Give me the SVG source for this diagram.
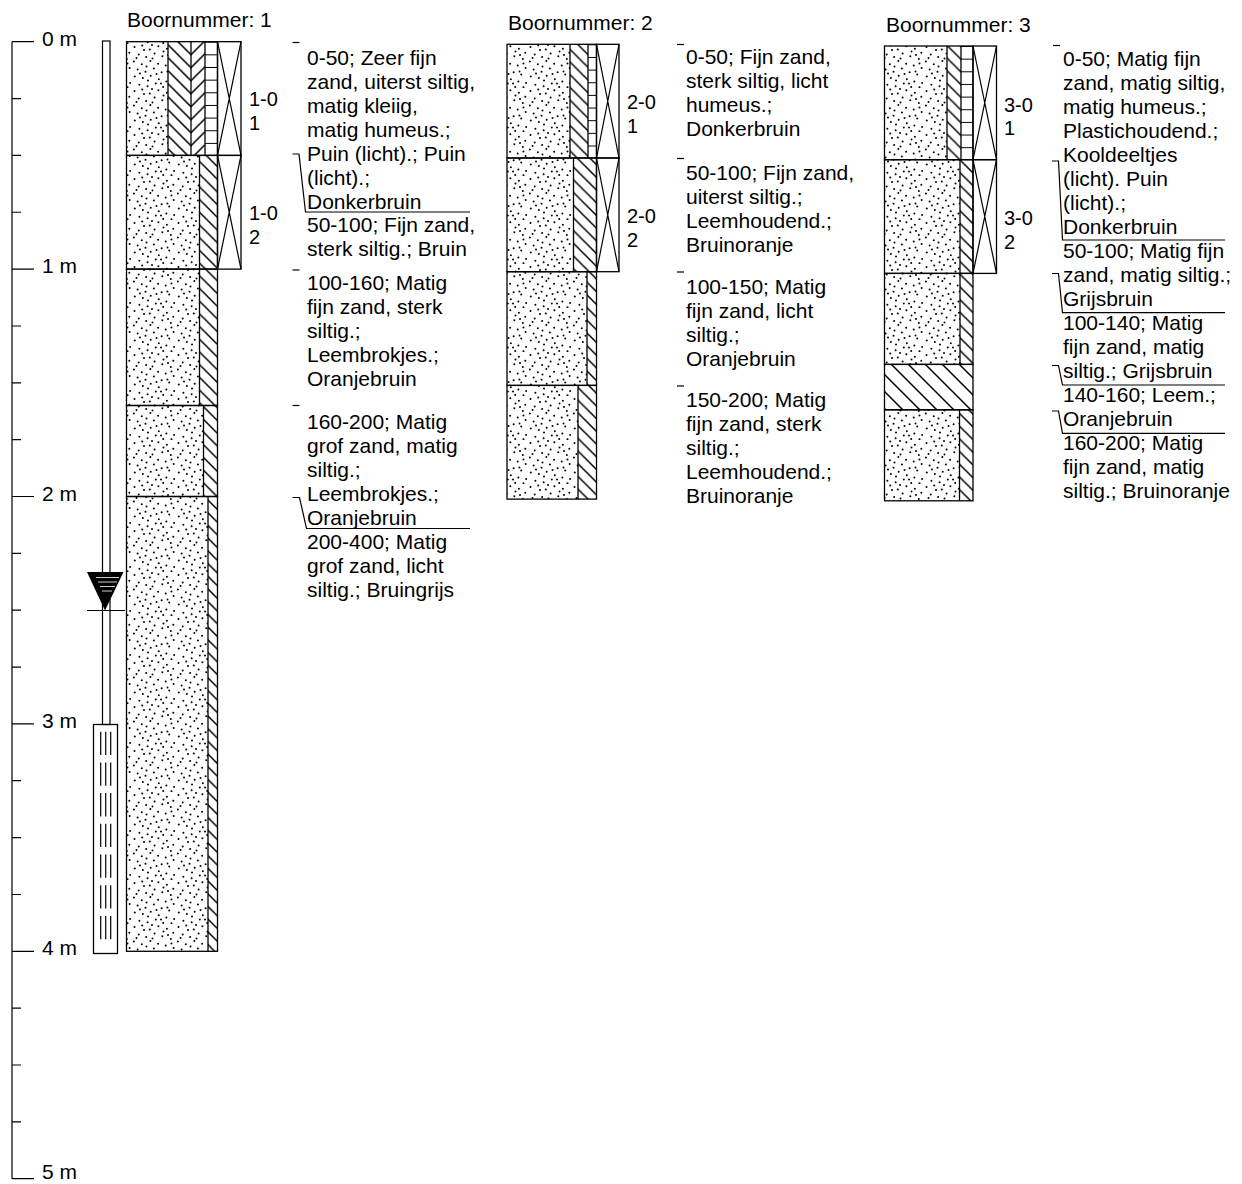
<svg xmlns="http://www.w3.org/2000/svg" width="1242" height="1184" viewBox="0 0 1242 1184">
<style>
.t{font-family:"Liberation Sans",Arial,Helvetica,sans-serif;font-size:21px;fill:#000}
.s{font-family:"Liberation Sans",Arial,Helvetica,sans-serif;font-size:20px;fill:#000}
.ln{stroke:#000;stroke-width:1.2;fill:none}
.bx{stroke:#000;stroke-width:1.3;fill:none}
.sand{fill:url(#sand)}
.hat{fill:url(#hatch)}
</style>
<defs>
<pattern id="sand" width="44" height="44" patternUnits="userSpaceOnUse">
<g fill="#000">
<circle cx="2.5" cy="3.1" r="1"/><circle cx="10.2" cy="1.4" r="1"/><circle cx="17.8" cy="5.6" r="1"/><circle cx="26.4" cy="2.3" r="1"/><circle cx="34.9" cy="4.7" r="1"/><circle cx="41.3" cy="8.8" r="1"/>
<circle cx="6.7" cy="10.5" r="1"/><circle cx="14.1" cy="12.9" r="1"/><circle cx="22.6" cy="9.4" r="1"/><circle cx="30.3" cy="12.2" r="1"/><circle cx="38.8" cy="15.1" r="1"/>
<circle cx="1.9" cy="17.6" r="1"/><circle cx="9.8" cy="20.3" r="1"/><circle cx="18.4" cy="17.1" r="1"/><circle cx="26.1" cy="19.8" r="1"/><circle cx="33.7" cy="21.5" r="1"/><circle cx="41.6" cy="23.9" r="1"/>
<circle cx="5.6" cy="25.4" r="1"/><circle cx="13.5" cy="27.8" r="1"/><circle cx="21.9" cy="24.6" r="1"/><circle cx="29.6" cy="28.3" r="1"/><circle cx="37.2" cy="30.4" r="1"/>
<circle cx="2.8" cy="32.6" r="1"/><circle cx="10.9" cy="34.1" r="1"/><circle cx="18.7" cy="31.7" r="1"/><circle cx="26.8" cy="35.2" r="1"/><circle cx="34.4" cy="37.6" r="1"/><circle cx="42.1" cy="38.9" r="1"/>
<circle cx="7.4" cy="40.8" r="1"/><circle cx="15.6" cy="42.3" r="1"/><circle cx="23.8" cy="39.5" r="1"/><circle cx="31.2" cy="42.9" r="1"/><circle cx="39.5" cy="43.2" r="1"/>
<circle cx="20.5" cy="14.5" r="1"/><circle cx="35.5" cy="27.5" r="1"/><circle cx="12" cy="6" r="1"/><circle cx="29" cy="39.5" r="1"/>
<circle cx="4.5" cy="14" r="1"/><circle cx="16" cy="36.5" r="1"/><circle cx="24.5" cy="30" r="1"/><circle cx="39.5" cy="19.5" r="1"/><circle cx="8" cy="29.5" r="1"/><circle cx="31.5" cy="7.5" r="1"/><circle cx="20" cy="1" r="1"/><circle cx="36" cy="11" r="1"/><circle cx="14.5" cy="22.5" r="1"/>
</g>
</pattern>
<pattern id="hatch" width="12.7" height="12.7" patternUnits="userSpaceOnUse">
<path d="M-1,-1 L13.7,13.7 M-4,8.7 L4,16.7 M8.7,-4 L16.7,4" stroke="#000" stroke-width="1.5"/>
</pattern>
<pattern id="leem" width="17" height="17" patternUnits="userSpaceOnUse">
<path d="M-1,-1 L18,18 M-4,13 L4,21 M13,-4 L21,4" stroke="#000" stroke-width="1.5"/>
</pattern>
<pattern id="herr" x="168" y="41.7" width="37" height="13" patternUnits="userSpaceOnUse">
<path d="M0,-23 L23,0 L37,-14 M0,-10 L23,13 L37,-1 M0,3 L23,26 L37,12" stroke="#000" stroke-width="1.5" fill="none"/>
</pattern>
<pattern id="lad1" x="0" y="41.7" width="20" height="12.65" patternUnits="userSpaceOnUse">
<path d="M0,0 H20" stroke="#000" stroke-width="2"/>
</pattern>
<pattern id="lad2" x="0" y="44.3" width="20" height="12.65" patternUnits="userSpaceOnUse">
<path d="M0,0 H20" stroke="#000" stroke-width="2"/>
</pattern>
<pattern id="lad3" x="0" y="46" width="20" height="12.65" patternUnits="userSpaceOnUse">
<path d="M0,0 H20" stroke="#000" stroke-width="2"/>
</pattern>
</defs>

<rect width="1242" height="1184" fill="#fff"/>

<g id="depth-axis">
<path class="ln" d="M12,41.7 V1178.7 M12,41.7 H34 M12,269.1 H34 M12,496.5 H34 M12,723.9 H34 M12,951.3 H34 M12,1178.7 H34"/>
<path class="ln" d="M12,98.55 H21 M12,155.4 H21 M12,212.25 H21 M12,326 H21 M12,382.8 H21 M12,439.7 H21 M12,553.3 H21 M12,610.2 H21 M12,667.1 H21 M12,780.7 H21 M12,837.6 H21 M12,894.5 H21 M12,1008.2 H21 M12,1065 H21 M12,1121.9 H21"/>
<text class="t" x="42" y="45.7">0 m</text>
<text class="t" x="42" y="273.1">1 m</text>
<text class="t" x="42" y="500.5">2 m</text>
<text class="t" x="42" y="727.9">3 m</text>
<text class="t" x="42" y="955.3">4 m</text>
<text class="t" x="42" y="1178.5">5 m</text>
</g>

<g id="peilbuis">
<rect class="ln" x="102.5" y="41" width="7.5" height="683.5"/>
<rect class="bx" x="93.5" y="724.5" width="24" height="229"/>
<path d="M100.7,731.7 V940 M105.7,731.7 V940 M110.7,731.7 V940" stroke="#000" stroke-width="1.2" stroke-dasharray="23.3 7.4"/>
<polygon points="87,572 123.5,572 105,610.5" fill="#000"/>
<path d="M96,577.5 H119 M98,582 H117 M100,586.5 H115 M102,591 H112" stroke="#fff" stroke-width="0.8"/>
<path class="ln" d="M87,610.5 H125"/>
</g>

<g id="boring-1">
<text class="t" x="127" y="27">Boornummer: 1</text>
<rect class="sand" x="126.5" y="41.7" width="41.5" height="113.7"/>
<rect fill="url(#herr)" x="168" y="41.7" width="37" height="113.7"/>
<rect fill="url(#lad1)" x="205" y="41.7" width="12.5" height="113.7"/>
<path class="bx" d="M168,41.7 V155.4 M191,41.7 V155.4 M205,41.7 V155.4"/>
<rect class="sand" x="126.5" y="155.4" width="73" height="113.7"/>
<rect class="hat" x="199.5" y="155.4" width="18" height="113.7"/>
<rect class="sand" x="126.5" y="269.1" width="73" height="136.4"/>
<rect class="hat" x="199.5" y="269.1" width="18" height="136.4"/>
<rect class="sand" x="126.5" y="405.5" width="77" height="91"/>
<rect class="hat" x="203.5" y="405.5" width="14" height="91"/>
<rect class="sand" x="126.5" y="496.5" width="81.5" height="454.8"/>
<rect class="hat" x="208" y="496.5" width="9.5" height="454.8"/>
<path class="bx" d="M199.5,155.4 V405.5 M203.5,405.5 V496.5 M208,496.5 V951.3"/>
<rect class="bx" x="126.5" y="41.7" width="91" height="113.7"/>
<rect class="bx" x="126.5" y="155.4" width="91" height="113.7"/>
<rect class="bx" x="126.5" y="269.1" width="91" height="136.4"/>
<rect class="bx" x="126.5" y="405.5" width="91" height="91"/>
<rect class="bx" x="126.5" y="496.5" width="91" height="454.8"/>
<rect class="bx" x="217.5" y="41.7" width="23.5" height="113.7"/>
<rect class="bx" x="217.5" y="155.4" width="23.5" height="113.7"/>
<path class="ln" d="M217.5,41.7 L241,155.4 M241,41.7 L217.5,155.4 M217.5,155.4 L241,269.1 M241,155.4 L217.5,269.1"/>
<text class="s" x="249" y="106">1-0</text>
<text class="s" x="249" y="130">1</text>
<text class="s" x="249" y="219.5">1-0</text>
<text class="s" x="249" y="243.5">2</text>
<g class="t">
<text x="307" y="64.5">0-50; Zeer fijn</text>
<text x="307" y="88.5">zand, uiterst siltig,</text>
<text x="307" y="112.5">matig kleiig,</text>
<text x="307" y="136.5">matig humeus.;</text>
<text x="307" y="160.5">Puin (licht).; Puin</text>
<text x="307" y="184.5">(licht).;</text>
<text x="307" y="208.5">Donkerbruin</text>
<text x="307" y="231.5">50-100; Fijn zand,</text>
<text x="307" y="255.5">sterk siltig.; Bruin</text>
<text x="307" y="290">100-160; Matig</text>
<text x="307" y="314">fijn zand, sterk</text>
<text x="307" y="338">siltig.;</text>
<text x="307" y="362">Leembrokjes.;</text>
<text x="307" y="386">Oranjebruin</text>
<text x="307" y="429">160-200; Matig</text>
<text x="307" y="453">grof zand, matig</text>
<text x="307" y="477">siltig.;</text>
<text x="307" y="501">Leembrokjes.;</text>
<text x="307" y="525">Oranjebruin</text>
<text x="307" y="549">200-400; Matig</text>
<text x="307" y="573">grof zand, licht</text>
<text x="307" y="597">siltig.; Bruingrijs</text>
</g>
</g>

<g id="boring-2">
<text class="t" x="508" y="29.5">Boornummer: 2</text>
<rect class="sand" x="507" y="44.3" width="63" height="113.7"/>
<rect class="hat" x="570" y="44.3" width="18" height="113.7"/>
<rect fill="url(#lad2)" x="588" y="44.3" width="8.5" height="113.7"/>
<path class="bx" d="M570,44.3 V158 M588,44.3 V158"/>
<rect class="sand" x="507" y="158" width="66.5" height="113.7"/>
<rect class="hat" x="573.5" y="158" width="23" height="113.7"/>
<rect class="sand" x="507" y="271.7" width="80" height="113.7"/>
<rect class="hat" x="587" y="271.7" width="9.5" height="113.7"/>
<rect class="sand" x="507" y="385.4" width="71" height="113.7"/>
<rect class="hat" x="578" y="385.4" width="18.5" height="113.7"/>
<path class="bx" d="M573.5,158 V271.7 M587,271.7 V385.4 M578,385.4 V499.1"/>
<rect class="bx" x="507" y="44.3" width="89.5" height="113.7"/>
<rect class="bx" x="507" y="158" width="89.5" height="113.7"/>
<rect class="bx" x="507" y="271.7" width="89.5" height="113.7"/>
<rect class="bx" x="507" y="385.4" width="89.5" height="113.7"/>
<rect class="bx" x="596.5" y="44.3" width="22.5" height="113.7"/>
<rect class="bx" x="596.5" y="158" width="22.5" height="113.7"/>
<path class="ln" d="M596.5,44.3 L619,158 M619,44.3 L596.5,158 M596.5,158 L619,271.7 M619,158 L596.5,271.7"/>
<text class="s" x="627" y="109">2-0</text>
<text class="s" x="627" y="133">1</text>
<text class="s" x="627" y="223">2-0</text>
<text class="s" x="627" y="246.5">2</text>
<g class="t">
<text x="686" y="64">0-50; Fijn zand,</text>
<text x="686" y="88">sterk siltig, licht</text>
<text x="686" y="112">humeus.;</text>
<text x="686" y="136">Donkerbruin</text>
<text x="686" y="180">50-100; Fijn zand,</text>
<text x="686" y="204">uiterst siltig.;</text>
<text x="686" y="228">Leemhoudend.;</text>
<text x="686" y="252">Bruinoranje</text>
<text x="686" y="294">100-150; Matig</text>
<text x="686" y="318">fijn zand, licht</text>
<text x="686" y="342">siltig.;</text>
<text x="686" y="366">Oranjebruin</text>
<text x="686" y="407">150-200; Matig</text>
<text x="686" y="431">fijn zand, sterk</text>
<text x="686" y="455">siltig.;</text>
<text x="686" y="479">Leemhoudend.;</text>
<text x="686" y="503">Bruinoranje</text>
</g>
</g>

<g id="boring-3">
<text class="t" x="886" y="31.5">Boornummer: 3</text>
<rect class="sand" x="884.5" y="46" width="62.5" height="113.7"/>
<rect class="hat" x="947" y="46" width="14" height="113.7"/>
<rect fill="url(#lad3)" x="961" y="46" width="12" height="113.7"/>
<path class="bx" d="M947,46 V159.7 M961,46 V159.7"/>
<rect class="sand" x="884.5" y="159.7" width="75.5" height="113.7"/>
<rect class="hat" x="960" y="159.7" width="13" height="113.7"/>
<rect class="sand" x="884.5" y="273.4" width="75.5" height="91"/>
<rect class="hat" x="960" y="273.4" width="13" height="91"/>
<rect fill="url(#leem)" x="884.5" y="364.4" width="88.5" height="45.4"/>
<rect class="sand" x="884.5" y="409.8" width="75" height="91"/>
<rect class="hat" x="959.5" y="409.8" width="13.5" height="91"/>
<path class="bx" d="M960,159.7 V364.4 M959.5,409.8 V500.8"/>
<rect class="bx" x="884.5" y="46" width="88.5" height="113.7"/>
<rect class="bx" x="884.5" y="159.7" width="88.5" height="113.7"/>
<rect class="bx" x="884.5" y="273.4" width="88.5" height="91"/>
<rect class="bx" x="884.5" y="364.4" width="88.5" height="45.4"/>
<rect class="bx" x="884.5" y="409.8" width="88.5" height="91"/>
<rect class="bx" x="973" y="46" width="23.5" height="113.7"/>
<rect class="bx" x="973" y="159.7" width="23.5" height="113.7"/>
<path class="ln" d="M973,46 L996.5,159.7 M996.5,46 L973,159.7 M973,159.7 L996.5,273.4 M996.5,159.7 L973,273.4"/>
<text class="s" x="1004" y="111.5">3-0</text>
<text class="s" x="1004" y="134.5">1</text>
<text class="s" x="1004" y="225">3-0</text>
<text class="s" x="1004" y="248.5">2</text>
<g class="t">
<text x="1063" y="65.5">0-50; Matig fijn</text>
<text x="1063" y="89.5">zand, matig siltig,</text>
<text x="1063" y="113.5">matig humeus.;</text>
<text x="1063" y="137.5">Plastichoudend.;</text>
<text x="1063" y="161.5">Kooldeeltjes</text>
<text x="1063" y="185.5">(licht). Puin</text>
<text x="1063" y="209.5">(licht).;</text>
<text x="1063" y="233.5">Donkerbruin</text>
<text x="1063" y="257.5">50-100; Matig fijn</text>
<text x="1063" y="281.5">zand, matig siltig.;</text>
<text x="1063" y="305.5">Grijsbruin</text>
<text x="1063" y="329.5">100-140; Matig</text>
<text x="1063" y="353.5">fijn zand, matig</text>
<text x="1063" y="377.5">siltig.; Grijsbruin</text>
<text x="1063" y="401.5">140-160; Leem.;</text>
<text x="1063" y="425.5">Oranjebruin</text>
<text x="1063" y="449.5">160-200; Matig</text>
<text x="1063" y="473.5">fijn zand, matig</text>
<text x="1063" y="497.5">siltig.; Bruinoranje</text>
</g>
</g>

<g id="connectors" class="ln">
<path d="M292.5,42.5 H299.5"/>
<path d="M292.5,154 H299 L305.5,212 H470"/>
<path d="M292.5,270 H299.5"/>
<path d="M292.5,405.5 H299.5"/>
<path d="M292.5,497.5 H299.5 L306.5,528.5 H470"/>
<path d="M677,44.5 H684"/>
<path d="M677,158.5 H684"/>
<path d="M677,272 H684"/>
<path d="M677,386 H684"/>
<path d="M1053,45.5 H1060"/>
<path d="M1052,161 H1058.5 L1062.5,240 H1225"/>
<path d="M1052,273.5 H1058.5 L1062.5,312.7 H1225"/>
<path d="M1052,365.5 H1058.5 L1062.5,385 H1225"/>
<path d="M1052,411 H1058.5 L1062.5,433.3 H1225"/>
</g>
</svg>
